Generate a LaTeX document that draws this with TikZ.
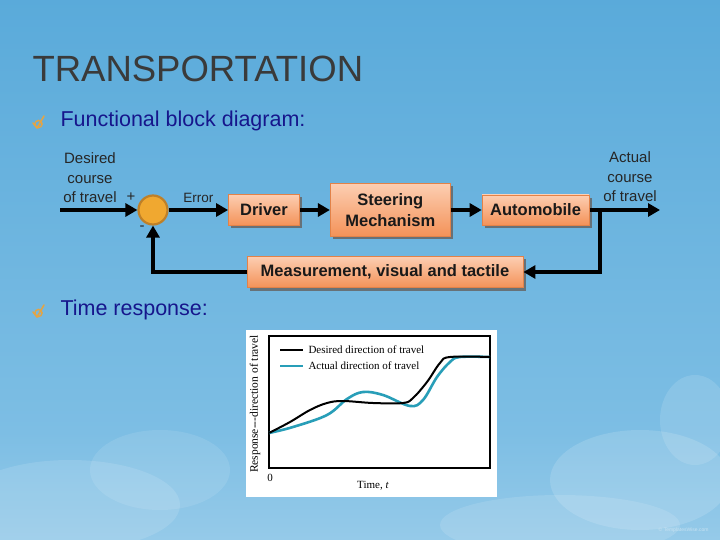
\documentclass[tikz,border=0pt]{standalone}
\usepackage{fontspec}
\setmainfont{Liberation Sans}
\newfontfamily\plotfont{Liberation Serif}
\usepackage{xcolor}
\usetikzlibrary{arrows.meta,positioning,shadows,calc}
\definecolor{skytop}{RGB}{68,158,212}
\definecolor{skymid}{RGB}{125,190,228}
\definecolor{skybot}{RGB}{210,232,245}
\definecolor{titlegrey}{RGB}{58,58,58}
\definecolor{navy}{RGB}{22,22,140}
\definecolor{peach}{RGB}{252,206,178}
\definecolor{boxorange}{RGB}{244,146,88}
\definecolor{boxedge}{RGB}{226,130,72}
\definecolor{sumfill}{RGB}{240,168,48}
\definecolor{sumedge}{RGB}{190,128,40}
\definecolor{bulletor}{RGB}{226,164,70}
\definecolor{actualcyan}{RGB}{40,158,184}
\pgfdeclareverticalshading{sky}{100bp}{color(0bp)=(skybot); color(35bp)=(skymid); color(100bp)=(skytop)}
\tikzset{
  block/.style   = {rectangle, draw=boxedge, line width=0.8bp, top color=peach,
                    bottom color=boxorange, align=center, inner sep=2bp,
                    font=\fontsize{16.5bp}{21bp}\selectfont\bfseries, text=black!90,
                    drop shadow={shadow xshift=2.5bp, shadow yshift=-3bp,
                                 fill=black!60, opacity=0.85}},
  sumnode/.style = {circle, draw=sumedge, fill=sumfill, line width=2.2bp,
                    minimum size=29bp, inner sep=0pt},
  flow/.style    = {-{Triangle[length=12bp, width=13bp]}, line width=3.8bp, draw=black},
  sig/.style     = {align=center, font=\fontsize{15bp}{19.5bp}\selectfont, text=black!85},
  bullet/.style  = {font=\fontsize{21.5bp}{25bp}\selectfont, text=navy, anchor=west},
}
\newcommand{\bulletmark}[1]{%
  \draw[bulletor, line width=1.6bp, line cap=round, line join=round]
    ($(#1)+(-5,1)$) -- ($(#1)+(-1,6)$) -- ($(#1)+(6,-6)$);
  \draw[bulletor, line width=1.4bp] ($(#1)+(0.5,2)$) circle[radius=3.6];}

\begin{document}
\begin{tikzpicture}[x=1bp, y=-1bp]
\useasboundingbox (0,0) rectangle (720,540);

% sky background and clouds
\fill[shading=sky] (0,0) rectangle (720,540);
\fill[white, opacity=0.12] (70,505) ellipse[x radius=110, y radius=45];
\fill[white, opacity=0.1] (160,470) ellipse[x radius=70, y radius=40];
\fill[white, opacity=0.14] (640,480) ellipse[x radius=90, y radius=50];
\fill[white, opacity=0.12] (695,420) ellipse[x radius=35, y radius=45];
\fill[white, opacity=0.12] (560,525) ellipse[x radius=120, y radius=30];

% heading and bullets
\node[anchor=west, font=\fontsize{36.5bp}{40bp}\selectfont, text=titlegrey] (title) at (29,69) {TRANSPORTATION};
\coordinate (b1) at (38,122);
\bulletmark{b1}
\node[bullet] (fbd) at (57,121) {Functional block diagram:};
\coordinate (b2) at (38,311);
\bulletmark{b2}
\node[bullet] (tresp) at (57,310) {Time response:};

% block diagram
\node[sumnode] (sum) at (153,210) {};
\node[block, minimum width=71bp, minimum height=31bp] (driver) at (264,210) {Driver};
\node[block, minimum width=120bp, minimum height=53bp, right=30bp of driver] (steer) {Steering\\Mechanism};
\node[block, minimum width=107bp, minimum height=30bp, right=31bp of steer] (auto) {Automobile};
\node[block, minimum width=276bp, minimum height=31bp] (measure) at (385,272) {Measurement, visual and tactile};

\coordinate (in) at (60,210);
\coordinate (out) at (660,210);
\coordinate (branch) at (600,210);

\draw[flow] (in) -- (sum.west);
\draw[flow] (sum.east) -- node[above=2bp, font=\fontsize{13.5bp}{16bp}\selectfont, text=black!85] (err) {Error} (driver.west);
\draw[flow] (driver) -- (steer);
\draw[flow] (steer) -- (auto);
\draw[flow] (auto) -- (out);
\draw[flow] (branch) |- (measure.east);
\draw[flow] (measure.west) -| (sum.south);

\node[sig] (desired) at (90,178) {Desired\\course\\of travel};
\node[sig] (actual) at (630,177) {Actual\\course\\of travel};
\node[sig] (plus) at (131,197) {+};
\node[sig] (minus) at (142,228) {-};

% time response plot
\node[rectangle, fill=white, minimum width=251bp, minimum height=167bp, inner sep=0pt] (panel) at (371.5,413.5) {};
\draw[black, line width=1.2bp] (269,336) rectangle (490,468);
\begin{scope}[font=\plotfont\fontsize{11bp}{13bp}\selectfont]
  \draw[black, line width=2bp] (280,350) -- (303,350);
  \draw[actualcyan, line width=2.6bp] (280,366) -- (303,366);
  \node[anchor=west] (ldes) at (305,350) {Desired direction of travel};
  \node[anchor=west] (lact) at (305,366) {Actual direction of travel};
  \node[rotate=90, font=\plotfont\fontsize{11.5bp}{13bp}\selectfont] (ylab) at (255,404) {Response---direction of travel};
  \node (zero) at (270,478) {0};
  \node (xlab) at (373,486) {Time, \textit{t}};
\end{scope}
\draw[actualcyan, line width=2.6bp] plot[smooth, tension=0.6] coordinates {
  (269,433) (293,427) (327,415) (347,399) (363,392) (383,395) (410,406)
  (423,400) (437,377) (450,362) (460,357) (490,357)};
\draw[black, line width=2bp] plot[smooth, tension=0.6] coordinates {
  (269,433) (290,422) (310,410) (327,403) (343,401) (373,403) (403,403)
  (413,398) (427,382) (440,363) (450,357) (490,357)};

% footer
\node[anchor=east, font=\fontsize{5bp}{6bp}\selectfont, text=white!70!skytop] (copy) at (712,530) {\textcopyright\ TemplatesWise.com};
\end{tikzpicture}
\end{document}
